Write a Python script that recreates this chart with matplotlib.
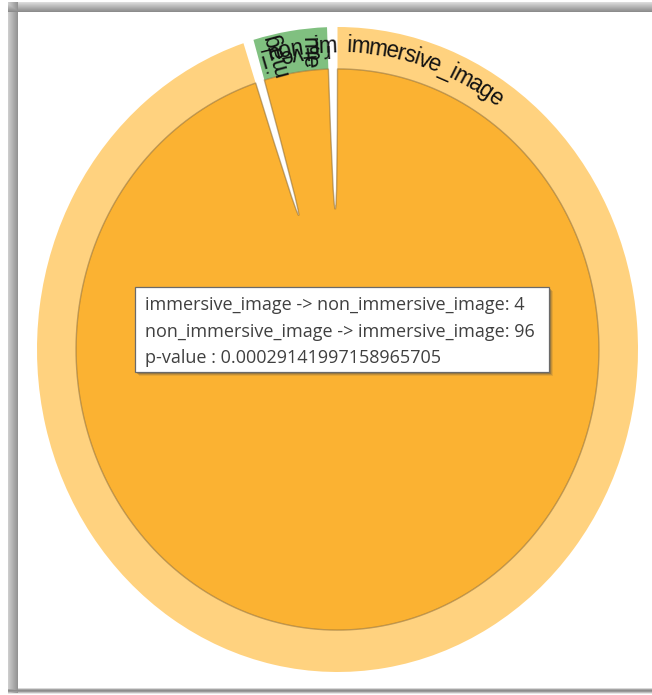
import numpy as np
import matplotlib
matplotlib.use("Agg")
import matplotlib.pyplot as plt
from matplotlib.patches import Wedge, PathPatch, Rectangle
from matplotlib.path import Path
from matplotlib.transforms import IdentityTransform
from matplotlib.font_manager import FontProperties, findfont, get_font

# ---------------- data ----------------
group_names = ["immersive_image", "non_immersive_image"]
# flows[i][j] = number of transitions from group i to group j
flows = [[0, 4],
         [96, 0]]
p_value = "0.00029141997158965705"

ribbon_colors = ["#FBB232", "#5FAF5F"]
arc_colors = ["#FFD27F", "#80C080"]

# ---------------- figure ----------------
W, H, DPI = 652, 695, 100
fig = plt.figure(figsize=(W / DPI, H / DPI), dpi=DPI)
fig.patch.set_facecolor("white")

# window frame with soft shadow
bg = fig.add_axes([0, 0, 1, 1], zorder=0)
bg.set_xlim(0, W)
bg.set_ylim(H, 0)
bg.axis("off")
frame = np.ones((H, W, 3))
for r, v in zip(range(2, 12), np.linspace(0.86, 0.55, 10)):
    frame[r, 8:, :] = v
for c, v in zip(range(8, 18), np.linspace(0.80, 0.58, 10)):
    frame[2:693, c, :] = np.minimum(frame[2:693, c, :], v)
for r, v in zip(range(688, 694), [0.85, 0.65, 0.55, 0.6, 0.75, 0.9]):
    frame[r, 8:, :] = np.minimum(frame[r, 8:, :], v)
frame[689:, 18:, :] = np.maximum(frame[689:, 18:, :], 0.55)
bg.imshow(frame, extent=(0, W, H, 0), interpolation="bilinear", aspect="auto")

# ---------------- chord layout ----------------
M = np.array(flows, dtype=float)
sizes = M.sum(axis=0)          # incoming totals per group
n = len(group_names)
pad = 2.0                      # degrees between groups
k = (360.0 - pad * n) / sizes.sum()

starts, ends = [], []
cursor = 0.0
for i in range(n):
    starts.append(cursor)
    ends.append(cursor + sizes[i] * k)
    cursor = ends[-1] + pad

r_out, r_in = 1.0, 0.87

ax = fig.add_axes([37 / W, 23 / H, 601 / W, 645 / H], zorder=1)
ax.set_xlim(-1, 1)
ax.set_ylim(-1, 1)
ax.axis("off")


def arc_pts(t0, t1, r, num=240):
    t = np.radians(np.linspace(t0, t1, num))
    return np.column_stack([r * np.sin(t), r * np.cos(t)])


# group arcs
for i in range(n):
    ax.add_patch(Wedge((0, 0), r_out, 90 - ends[i], 90 - starts[i],
                       width=r_out - r_in, facecolor=arc_colors[i],
                       edgecolor="none", zorder=2))

# sub-arcs: inside group i, the part fed by group j
sub = {}
for i in range(n):
    c = starts[i]
    for j in range(n):
        span = M[j, i] * k
        sub[(i, j)] = (c, c + span)
        c += span

# ribbons
for i in range(n):
    for j in range(i + 1, n):
        if M[i, j] + M[j, i] == 0:
            continue
        s0, s1 = sub[(i, j)]
        t0, t1 = sub[(j, i)]
        a = arc_pts(s0, s1, r_in)
        b = arc_pts(t0, t1, r_in)
        verts = list(a) + [(0, 0), tuple(b[0])] + list(b[1:]) + [(0, 0), tuple(a[0]), (0, 0)]
        codes = ([Path.MOVETO] + [Path.LINETO] * (len(a) - 1) + [Path.CURVE3] * 2
                 + [Path.LINETO] * (len(b) - 1) + [Path.CURVE3] * 2 + [Path.CLOSEPOLY])
        col = ribbon_colors[i] if sizes[i] >= sizes[j] else ribbon_colors[j]
        ax.add_patch(PathPatch(Path(verts, codes), facecolor=col,
                               edgecolor=(0.55, 0.42, 0.2, 0.55), lw=1.0, zorder=3))

# ---------------- labels along the group arcs ----------------
label_family = "Liberation Sans"
label_pt = 16.3
label_prop = FontProperties(family=label_family, size=label_pt)
ft = get_font(findfont(label_prop))
ft.set_size(label_pt, DPI)
offset_px, dy_px = 10.0, 25.0

for i in range(n):
    pts = np.vstack([arc_pts(starts[i], ends[i], r_out),
                     arc_pts(ends[i], starts[i], r_in),
                     arc_pts(starts[i], starts[i], r_out, num=1)])
    d = ax.transData.transform(pts)
    seg = np.diff(d, axis=0)
    seglen = np.hypot(seg[:, 0], seg[:, 1])
    cum = np.concatenate([[0], np.cumsum(seglen)])
    total = cum[-1]
    pos = offset_px
    for ch in group_names[i]:
        adv = ft.load_char(ord(ch)).linearHoriAdvance / 65536
        mid = pos + adv / 2
        pos += adv
        if mid > total:
            break
        idx = min(np.searchsorted(cum, mid, side="right") - 1, len(seglen) - 1)
        while seglen[idx] == 0 and idx > 0:
            idx -= 1
        f = (mid - cum[idx]) / seglen[idx]
        p = d[idx] + f * seg[idx]
        tx, ty = seg[idx] / seglen[idx]
        x = p[0] + dy_px * ty
        y = p[1] - dy_px * tx
        fig.text(x, y, ch, transform=IdentityTransform(), rotation=np.degrees(np.arctan2(ty, tx)),
                 rotation_mode="anchor", ha="center", va="baseline",
                 fontsize=label_pt, family=label_family, color="#111111", zorder=6)

# ---------------- tooltip ----------------
ov = fig.add_axes([0, 0, 1, 1], zorder=5)
ov.set_xlim(0, W)
ov.set_ylim(H, 0)
ov.axis("off")
bx0, by0, bx1, by1 = 135, 287, 549, 372
for off, al in [(4, 0.12), (3, 0.2), (2, 0.3)]:
    ov.add_patch(Rectangle((bx0 + off, by0 + off), bx1 - bx0, by1 - by0,
                           facecolor="#444444", edgecolor="none", alpha=al))
ov.add_patch(Rectangle((bx0, by0), bx1 - bx0, by1 - by0, facecolor="white",
                       edgecolor="#6a6a6a", lw=0.9))
lines = [f"{group_names[0]} -> {group_names[1]}: {flows[0][1]}",
         f"{group_names[1]} -> {group_names[0]}: {flows[1][0]}",
         f"p-value : {p_value}"]
for line, yb in zip(lines, [310, 337, 363]):
    ov.text(145, yb, line, ha="left", va="baseline", fontsize=13.0,
            family="Open Sans", color="#404040")

fig.savefig("out.png", dpi=DPI, facecolor="white")
